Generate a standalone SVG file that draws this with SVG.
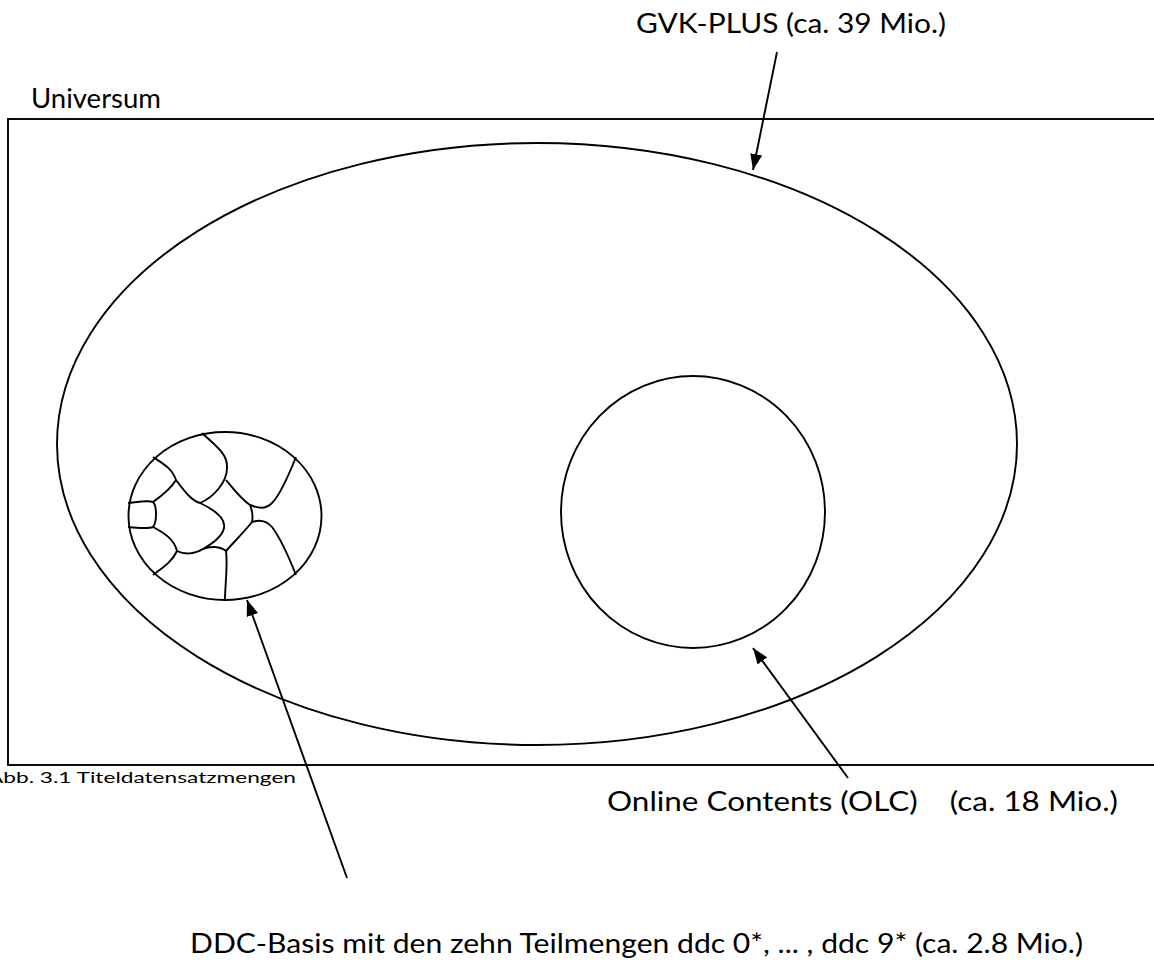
<svg xmlns="http://www.w3.org/2000/svg" width="1154" height="978" viewBox="0 0 1154 978">
<defs>
<style>
.ln{fill:none;stroke:#000;stroke-width:1.9}
.t{font-family:Lato,"Liberation Sans",sans-serif;fill:#000}
.big{font-size:27px}
.sm{font-size:16px}
</style>
<marker id="ah" viewBox="0 0 16 12" refX="16" refY="6" markerWidth="16" markerHeight="12" markerUnits="userSpaceOnUse" orient="auto">
<path d="M0,0 L16,6 L0,12 z" fill="#000"/>
</marker>
</defs>
<rect width="1154" height="978" fill="#fff"/>
<g id="universum">
<rect x="8" y="119" width="1160" height="646" class="ln" stroke-width="2.2"/>
<text class="t big" x="31" y="108" textLength="130" lengthAdjust="spacingAndGlyphs">Universum</text>
</g>
<g id="gvk">
<ellipse cx="537" cy="444" rx="480" ry="301" class="ln"/>
<text class="t big" x="636" y="33" textLength="310" lengthAdjust="spacingAndGlyphs">GVK-PLUS (ca. 39 Mio.)</text>
</g>
<g id="olc">
<ellipse cx="693" cy="512" rx="132" ry="136" class="ln"/>
<text class="t big" x="607" y="811" textLength="511" lengthAdjust="spacingAndGlyphs" xml:space="preserve">Online Contents (OLC)    (ca. 18 Mio.)</text>
</g>
<g id="ddc">
<ellipse cx="225" cy="516" rx="96.5" ry="84" class="ln"/>
<g class="ln">
<path d="M202,433 C216,446 228,454 227,468 C227,482 214,497 200,503"/>
<path d="M153,457 C162,463 172,468 176,480 C185,492 192,501 200,503"/>
<path d="M176,480 C170,490 160,497 153,502"/>
<path d="M128,503 C138,502 148,500 153,502 C157,506 157,522 153,527 C148,529 138,528 128,527"/>
<path d="M153,527 C162,532 174,538 177,551 C185,555 195,554 203,549 C210,546 220,546 226,551"/>
<path d="M177,551 C172,562 162,568 153,575"/>
<path d="M200,503 C215,510 226,518 224,528 C222,538 210,545 203,549"/>
<path d="M226,480 C236,492 242,500 250,505 C252,510 253,517 252,522 C244,532 234,542 226,551"/>
<path d="M250,505 C258,508 265,510 272,503 C280,495 290,472 296,457"/>
<path d="M252,522 C258,520 266,520 272,527 C282,540 290,560 296,575"/>
<path d="M226,551 C228,565 225,585 225,600"/>
</g>
<text class="t big" x="190" y="953" textLength="893" lengthAdjust="spacingAndGlyphs">DDC-Basis mit den zehn Teilmengen ddc 0*, ... , ddc 9* (ca. 2.8 Mio.)</text>
</g>
<g id="caption">
<text class="t sm" x="-12" y="783" textLength="308" lengthAdjust="spacingAndGlyphs">Abb. 3.1 Titeldatensatzmengen</text>
</g>
<g id="connectors" class="ln">
<line x1="777" y1="52" x2="753" y2="170" marker-end="url(#ah)"/>
<line x1="848" y1="778" x2="753" y2="648" marker-end="url(#ah)"/>
<line x1="347" y1="878" x2="247" y2="600" marker-end="url(#ah)"/>
</g>
</svg>
